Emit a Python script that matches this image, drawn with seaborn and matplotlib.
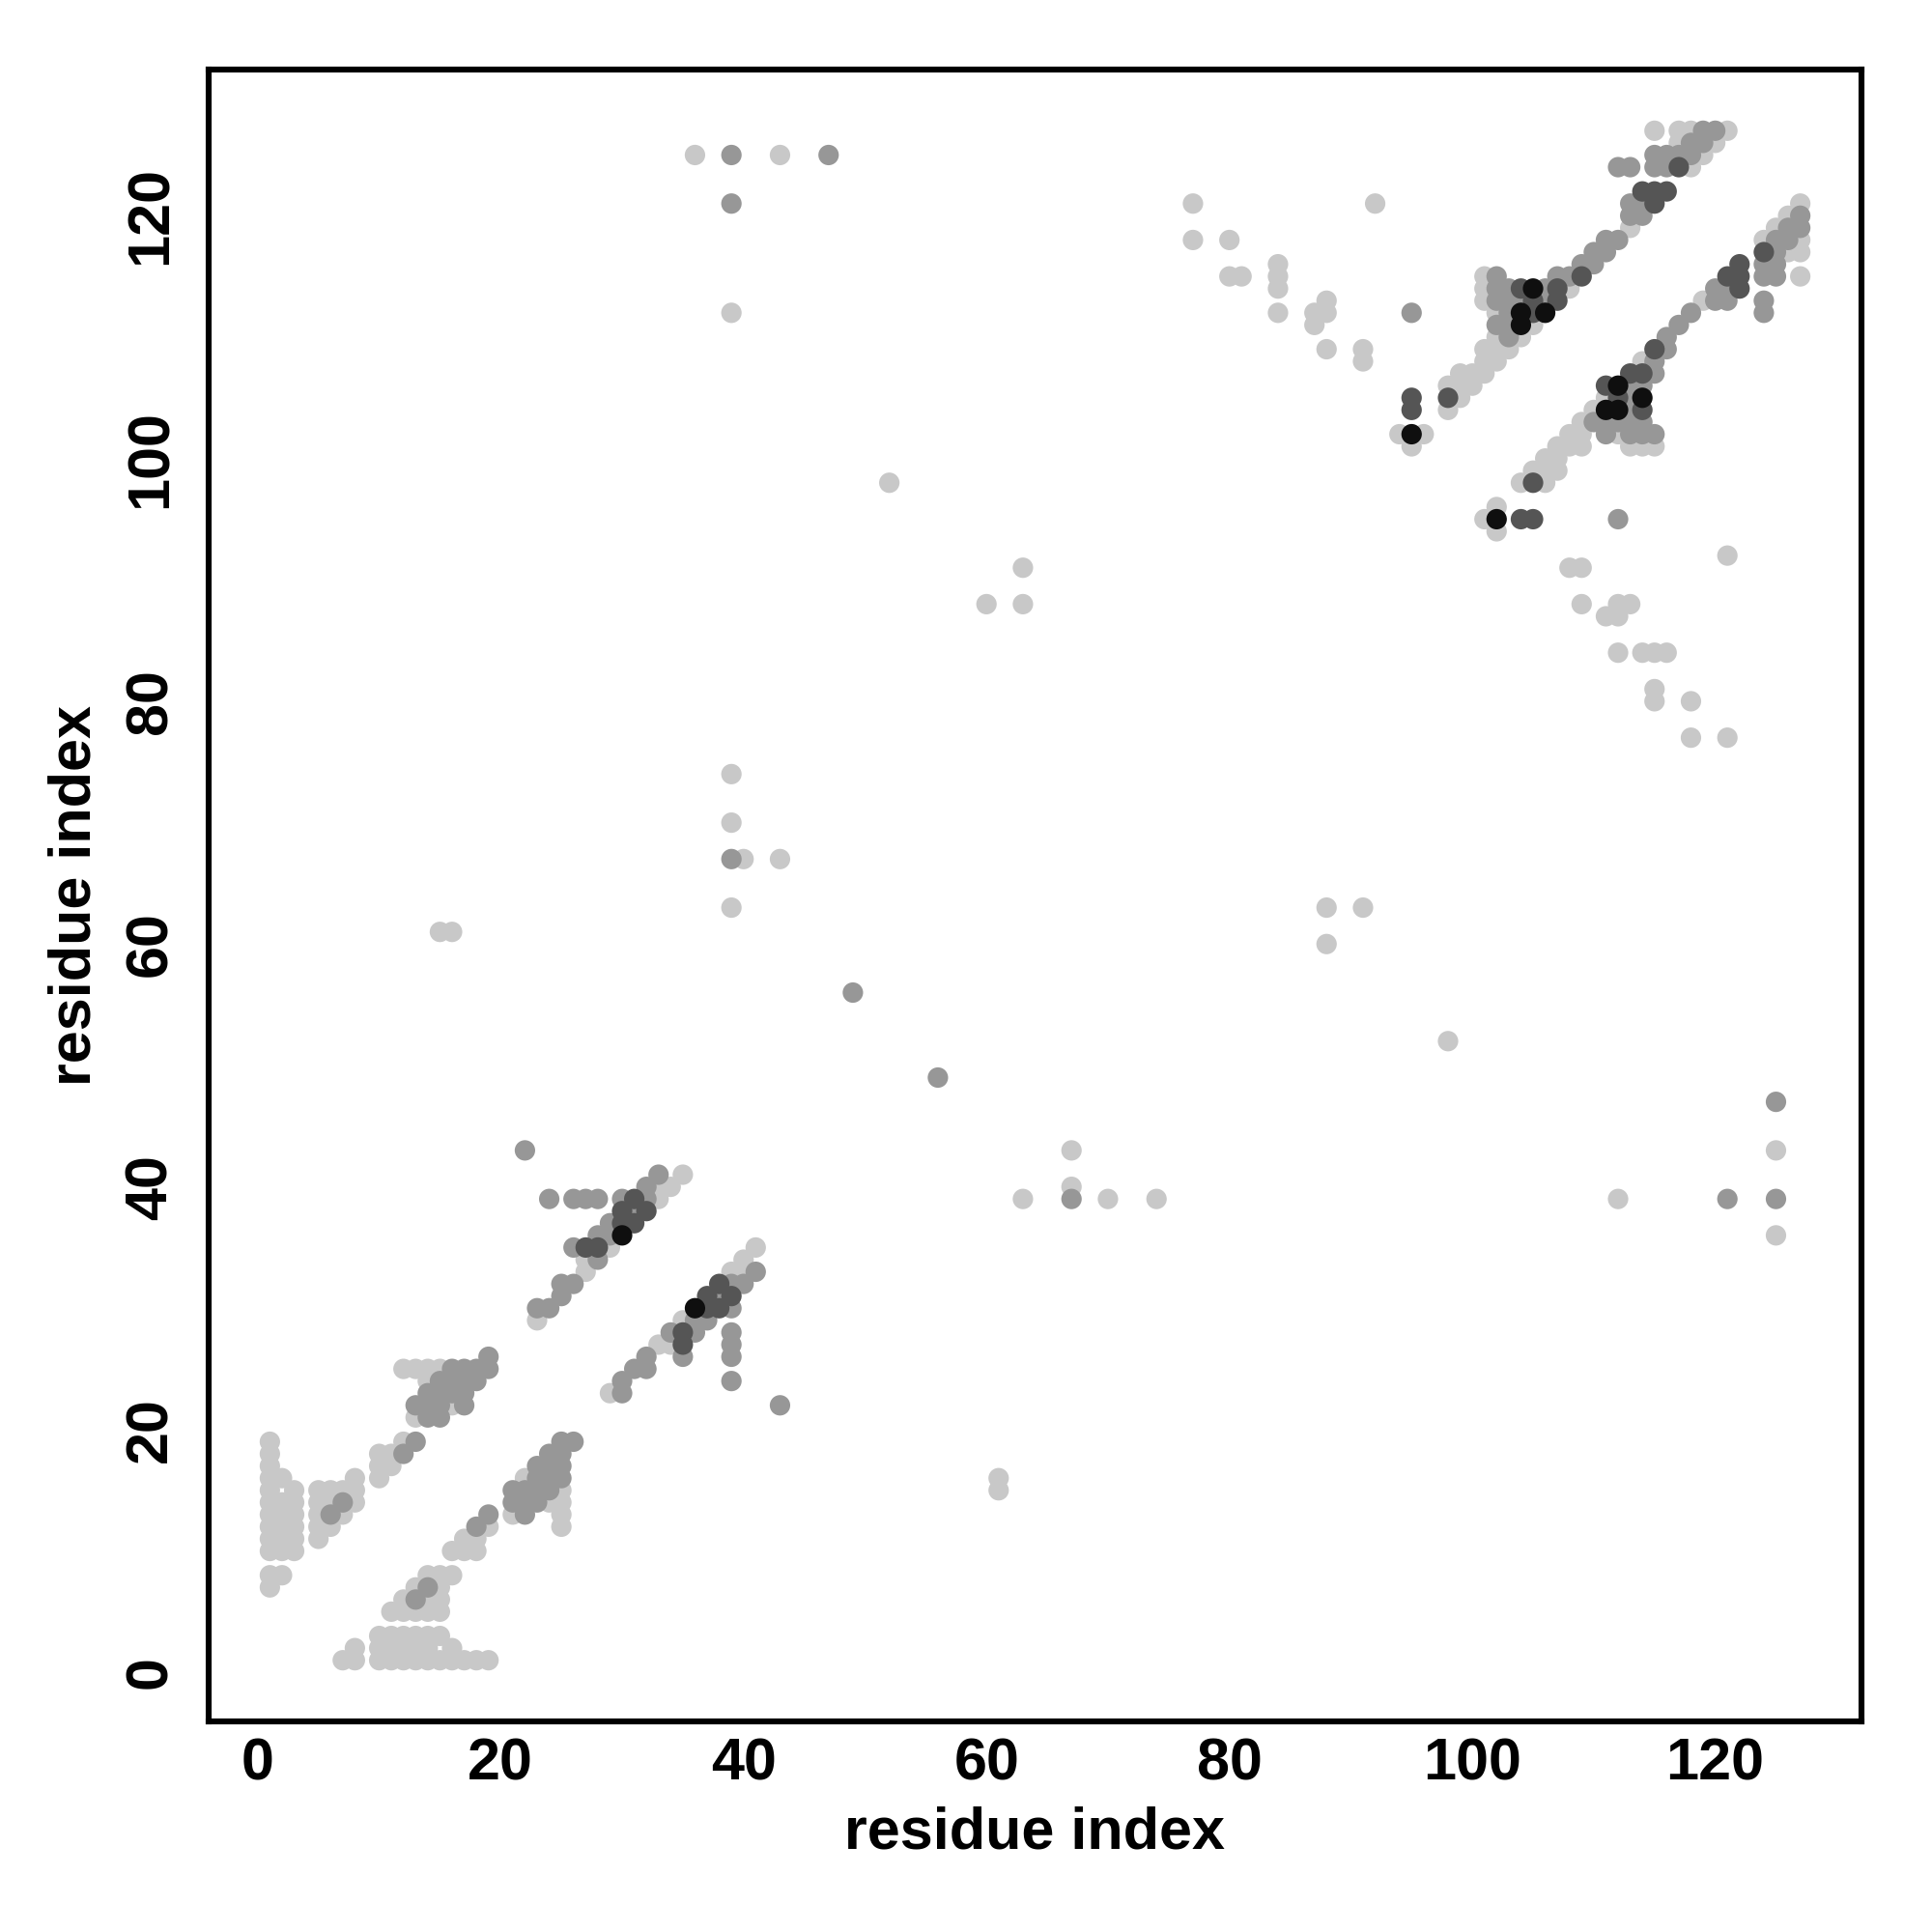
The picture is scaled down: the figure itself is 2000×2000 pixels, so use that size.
import numpy as np
import pandas as pd
import matplotlib
matplotlib.use("Agg")
import matplotlib.pyplot as plt
import seaborn as sns

# contact points, grouped by grey level (light / mid / dark / black)
light_pts = [
    (1, 7), (1, 8), (1, 10), (1, 11), (1, 12), (1, 13), (1, 14), (1, 15), (1, 16), (1, 17), (1, 18), (1, 19),
    (2, 8), (2, 10), (2, 11), (2, 12), (2, 13), (2, 14), (2, 16),
    (3, 10), (3, 11), (3, 12), (3, 13), (3, 14), (3, 15),
    (5, 11), (5, 12), (5, 13), (5, 14), (5, 15),
    (6, 12), (6, 14), (6, 15), (7, 13), (7, 15), (8, 14), (8, 15), (8, 16),
    (10, 16), (10, 17), (10, 18), (11, 17), (11, 18), (12, 19),
    (12, 25), (13, 25), (14, 25), (15, 25), (14, 24), (16, 22), (13, 21),
    (22, 16), (24, 14), (25, 14), (25, 15), (21, 13), (25, 13), (25, 12), (19, 12),
    (16, 10), (17, 10), (18, 10), (17, 11), (18, 11),
    (14, 8), (15, 8), (16, 8), (13, 7), (15, 7), (12, 6), (14, 6), (15, 6),
    (11, 5), (12, 5), (13, 5), (14, 5), (15, 5),
    (10, 3), (11, 3), (12, 3), (13, 3), (14, 3), (15, 3),
    (8, 2), (10, 2), (11, 2), (12, 2), (13, 2), (14, 2), (16, 2),
    (7, 1), (8, 1), (10, 1), (11, 1), (12, 1), (13, 1), (14, 1), (15, 1), (16, 1), (17, 1), (18, 1), (19, 1),
    (23, 29), (27, 33), (27, 34), (29, 35), (33, 39), (33, 40), (34, 40), (35, 41),
    (29, 23), (33, 27), (34, 27), (35, 29), (39, 33), (40, 33), (40, 34), (41, 35),
    (15, 61), (16, 61), (39, 74), (39, 70), (40, 67), (43, 67), (39, 63),
    (60, 88), (63, 88), (63, 91), (52, 98), (61, 15), (61, 16),
    (63, 39), (67, 40), (67, 43), (70, 39), (74, 39),
    (88, 60), (88, 63), (91, 63), (98, 52), (112, 39), (125, 43), (125, 36),
    (121, 92), (109, 88), (108, 91), (109, 91), (111, 87), (112, 87), (112, 88), (113, 88),
    (112, 84), (114, 84), (115, 84), (116, 84), (115, 81), (115, 80), (118, 80), (118, 77), (121, 77),
    (39, 112), (36, 125), (43, 125),
    (77, 121), (92, 121), (77, 118), (80, 118), (80, 115), (81, 115),
    (84, 116), (84, 115), (84, 114), (84, 112), (88, 113), (87, 112), (88, 112), (87, 111),
    (88, 109), (91, 109), (91, 108),
    (95, 101), (94, 102), (96, 102), (98, 104), (99, 105), (98, 106), (99, 106), (100, 106),
    (99, 107), (100, 107), (101, 107), (101, 108), (102, 108), (101, 109), (102, 109), (103, 109),
    (102, 110), (104, 110), (105, 111), (102, 112), (101, 113), (101, 114), (108, 114), (101, 115),
    (113, 119), (118, 124), (119, 125), (117, 126), (120, 126),
    (115, 127), (117, 127), (118, 127), (121, 127),
    (101, 95), (102, 96), (102, 94), (104, 98), (106, 98), (105, 99), (106, 99), (107, 99),
    (106, 100), (107, 100), (107, 101), (108, 101), (109, 101), (113, 101), (114, 101), (115, 101),
    (108, 102), (109, 102), (112, 102), (109, 103), (110, 104), (111, 105), (114, 108), (119, 113),
    (127, 115), (126, 117), (127, 117), (124, 118), (127, 118), (125, 119), (126, 120), (127, 121),
]

mid_pts = [
    (6, 13), (7, 14), (12, 18), (13, 19),
    (16, 25), (17, 25), (18, 25), (19, 25), (19, 26),
    (15, 24), (16, 24), (17, 24), (18, 24),
    (14, 23), (15, 23), (16, 23), (17, 23),
    (13, 22), (14, 22), (15, 22), (17, 22), (14, 21), (15, 21),
    (18, 12), (19, 13), (22, 13), (21, 14), (22, 14), (23, 14),
    (21, 15), (22, 15), (23, 15), (24, 15), (23, 16), (24, 16), (25, 16),
    (23, 17), (24, 17), (25, 17), (24, 18), (25, 18), (25, 19), (26, 19),
    (13, 6), (14, 7),
    (22, 43), (24, 39), (26, 39), (27, 39), (28, 39), (30, 39), (32, 39), (32, 40), (33, 41),
    (31, 38), (29, 37), (28, 36), (29, 36), (26, 35), (28, 34), (25, 32), (26, 32), (25, 31),
    (23, 30), (24, 30),
    (30, 23), (30, 24), (31, 25), (32, 25), (32, 26), (35, 26), (39, 24), (39, 26), (39, 27),
    (39, 28), (34, 28), (36, 28), (36, 29), (37, 29), (39, 30), (38, 31), (39, 32), (40, 32),
    (41, 33), (43, 22),
    (39, 67), (49, 56), (56, 49), (67, 39), (121, 39), (125, 39), (125, 47), (112, 95),
    (39, 121), (39, 125), (47, 125), (95, 112),
    (103, 110), (102, 111), (103, 111), (103, 112), (102, 113), (103, 113), (104, 113), (106, 113),
    (102, 114), (103, 114), (106, 114), (102, 115), (107, 115), (108, 115), (109, 116), (110, 116),
    (110, 117), (111, 117), (111, 118), (112, 118), (113, 120), (114, 120), (113, 121), (114, 121),
    (112, 124), (113, 124), (115, 124), (116, 124), (115, 125), (116, 125), (117, 125), (118, 125),
    (118, 126), (119, 126), (119, 127), (120, 127),
    (111, 102), (113, 102), (114, 102), (115, 102), (110, 103), (111, 103), (112, 103), (113, 103),
    (114, 103), (113, 104), (113, 105), (113, 106), (114, 106), (115, 107), (115, 108), (116, 109),
    (116, 110), (117, 111), (118, 112), (124, 112), (120, 113), (121, 113), (124, 113), (120, 114),
    (121, 114), (124, 115), (125, 115), (124, 116), (125, 116), (125, 117), (125, 118), (126, 118),
    (126, 119), (127, 119), (127, 120),
]

dark_pts = [
    (31, 39), (30, 38), (32, 38), (30, 37), (31, 37), (27, 35), (28, 35),
    (35, 27), (35, 28), (37, 30), (38, 30), (37, 31), (39, 31), (38, 32),
    (95, 104), (95, 105), (98, 105), (105, 112), (105, 113), (107, 113), (104, 114), (107, 114),
    (109, 115), (115, 121), (114, 122), (115, 122), (116, 122), (117, 124),
    (104, 95), (105, 95), (105, 98), (114, 104), (112, 105), (111, 106), (113, 107), (114, 107),
    (115, 109), (122, 114), (121, 115), (122, 115), (122, 116), (124, 117),
]

black_pts = [
    (30, 36), (36, 30), (95, 102), (102, 95), (104, 111), (104, 112), (106, 112),
    (105, 114), (111, 104), (112, 104), (114, 105), (112, 106),
]

level_colors = {"light": "#c8c8c8", "mid": "#979797", "dark": "#555555", "black": "#0f0f0f"}

frames = []
for name, pts in [("light", light_pts), ("mid", mid_pts), ("dark", dark_pts), ("black", black_pts)]:
    arr = np.array(pts)
    frames.append(pd.DataFrame({"i": arr[:, 0], "j": arr[:, 1], "level": name}))
df = pd.concat(frames, ignore_index=True)

sns.set_style("white")
plt.rcParams["font.family"] = ["Liberation Sans", "DejaVu Sans"]
plt.rcParams["font.weight"] = "bold"
plt.rcParams["text.color"] = "black"
plt.rcParams["axes.labelcolor"] = "black"
plt.rcParams["xtick.color"] = "black"
plt.rcParams["ytick.color"] = "black"

fig = plt.figure(figsize=(10, 10), dpi=200)
ax = fig.add_axes([0.108, 0.109, 0.8555, 0.855])

# darker points drawn last so they sit on top
sns.scatterplot(data=df, x="i", y="j", hue="level", palette=level_colors,
                hue_order=["light", "mid", "dark", "black"], s=58, linewidth=0,
                legend=False, ax=ax)

ax.set_xlim(-4.04, 132.04)
ax.set_ylim(-4.04, 132.04)
ticks = [0, 20, 40, 60, 80, 100, 120]
ax.set_xticks(ticks)
ax.set_yticks(ticks)
ax.set_xticklabels([str(t) for t in ticks], fontsize=22, fontweight="bold", color="black")
ax.set_yticklabels([str(t) for t in ticks], fontsize=22, fontweight="bold", color="black",
                   rotation=90, va="center")
ax.tick_params(axis="both", direction="out", length=3, width=1.2, color="black")
ax.tick_params(axis="x", pad=3)
ax.tick_params(axis="y", pad=8)

for sp in ax.spines.values():
    sp.set_visible(True)
    sp.set_color("black")
    sp.set_linewidth(2.2)

ax.set_xlabel("residue index", fontsize=22, fontweight="bold", color="black", labelpad=5)
ax.set_ylabel("residue index", fontsize=22, fontweight="bold", color="black", labelpad=8)

fig.savefig("out.png", dpi=200, facecolor="white")
